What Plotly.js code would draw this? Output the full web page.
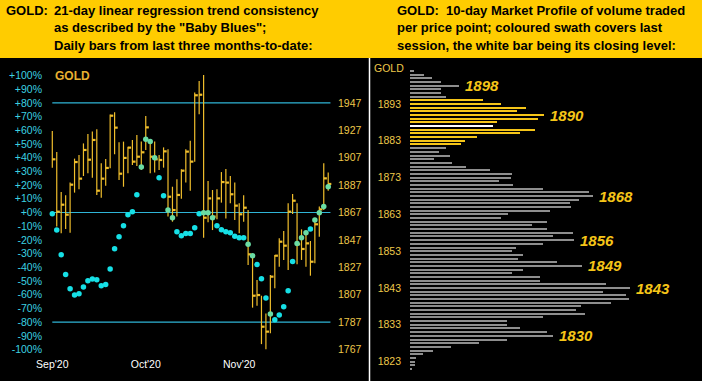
<!DOCTYPE html>
<html>
<head>
<meta charset="utf-8">
<script src="https://cdn.plot.ly/plotly-3.0.1.min.js"></script>
<style>html,body{margin:0;padding:0;background:#FFCC00;}#chart{width:702px;height:381px;}</style>
</head>
<body>
<div id="chart"></div>
<script>
// ---------- Left panel data: daily bars (percent scale, 0% = 1867) ----------
const monthLabels = ["Sep'20", "Oct'20", "Nov'20"];
const monthStarts = [0, 21, 42];
const highs = [59.4,44.1,15.0,12.5,21.8,39.3,41.9,50.4,57.3,59.0,60.7,35.9,39.0,71.4,73.1,51.2,51.7,48.0,52.9,56.5,51.7,
  70.4,51.7,51.7,41.9,47.5,46.1,18.8,24.2,31.5,46.1,52.4,87.6,95.9,100.3,23.0,16.4,16.9,29.5,31.7,26.6,21.8,
  6.7,12.5,1.8,-31.0,-49.2,-60.7,-73.6,-45.6,-31.0,-18.8,-13.5,6.7,13.5,6.7,-12.3,-13.5,-20.8,-4.3,4.3,35.9,29.1];
const lows = [32.7,-10.3,-15.2,-12.0,-14.7,14.5,16.9,26.6,28.6,25.4,12.8,10.8,19.6,32.2,42.4,23.7,18.8,28.6,34.6,33.9,31.0,
  45.6,28.6,29.1,31.0,32.7,-3.0,-6.7,-3.0,10.0,21.8,15.9,37.1,71.6,-18.4,-7.2,-12.8,-5.0,7.2,-4.3,6.7,-5.5,
  -15.2,-6.7,-38.3,-69.4,-68.0,-96.0,-99.8,-88.1,-55.3,-39.5,-34.6,-41.9,-1.1,-37.8,-34.6,-39.5,-46.1,-37.1,-17.6,1.8,15.9];
const closes = [38.8,0.6,5.7,-1.6,20.3,36.8,24.7,45.6,38.5,52.9,15.9,24.7,32.5,70.6,61.9,28.3,39.8,47.3,37.1,40.7,43.9,
  62.1,40.7,38.8,38.3,44.6,11.5,1.8,12.8,30.5,44.4,37.1,85.5,85.9,-3.8,10.3,-3.0,10.3,22.2,21.8,13.3,5.0,
  -1.3,3.5,-30.5,-60.7,-60.2,-83.3,-86.9,-46.8,-31.5,-21.3,-24.2,0.6,8.6,-23.2,-26.6,-22.5,-35.9,-8.6,2.3,24.9,20.8];
const babyBlues = [-0.9,-12.8,-30.8,-45.3,-55.6,-60.2,-59.2,-54.3,-49.7,-48.5,-49.0,-53.4,-52.6,-41.2,-26.4,-17.6,-9.6,-1.6,0.6,13.0,33.2,
  53.4,51.7,40.0,25.4,12.3,1.8,-3.8,-14.0,-17.0,-15.4,-15.4,-11.1,-0.9,-0.1,-0.1,-3.8,-9.6,-12.5,-14.0,-14.7,-17.4,
  -18.4,-18.4,-23.2,-31.5,-38.0,-48.3,-62.4,-74.1,-78.2,-74.8,-68.7,-57.0,-35.8,-22.7,-18.4,-14.7,-12.0,-5.5,-0.1,4.3,18.8];
const pctTicks = [100,90,80,70,60,50,40,30,20,10,0,-10,-20,-30,-40,-50,-60,-70,-80,-90,-100];
const priceTicks = [1947,1927,1907,1887,1867,1847,1827,1807,1787,1767];
const pivotPrice = 1867;          // 0% level
const refLevels = [80, 0, -80];   // horizontal reference lines

// ---------- Right panel data: market profile ----------
const profileTop = 1902, profileBottom = 1821;
const volumes = [4,14,22,31,49,31,31,36,73,91, 116,107,134,128,87,83,125,110,67,55,
  51,36,29,40,24,42,56,80,102,101, 89,103,133,179,183,169,160,161,140,98,
  91,137,122,137,163,143,164,133,106,102, 113,108,147,172,113,102,130,130,196,220,
  193,216,219,201,171,166,175,133,97,97, 110,137,143,97,69,41,23,13,6,5, 5,2];
const swathHigh = 1894, swathLow = 1882, closeLevel = 1887;
const profileLabels = [1898, 1890, 1868, 1856, 1849, 1843, 1830];
const profileTicks = [1893,1883,1873,1863,1853,1843,1833,1823];

const W = 702, H = 381;
const px = x => x / W, py = y => 1 - y / H;
const idx = highs.map((_, i) => i);
const prices = volumes.map((_, i) => profileTop - i);

const BAR = '#F0BE2C', CYAN = '#16E0E6', LINE = '#2FB4D6', AXC = '#3CD2E0', PRC = '#EEC84A';
const FONT = 'Liberation Sans, Arial, sans-serif';

// y ranges
const pxPerPct = 1.371, zeroY = 212.5, topY = 60, botY = 356;
const yTop = (zeroY - topY) / pxPerPct, yBot = (zeroY - botY) / pxPerPct;
const rowPx = 3.68, rowRefY = 104, rowRefP = 1893;
const pTop = rowRefP + (rowRefY - 58) / rowPx, pBot = rowRefP - (381 - rowRefY) / rowPx;

const traces = [];
// High-low ranges
traces.push({type:'scatter', mode:'markers', x:idx, y:lows, xaxis:'x', yaxis:'y',
  marker:{size:1, color:'rgba(0,0,0,0)'}, hoverinfo:'skip', showlegend:false,
  error_y:{type:'data', symmetric:false, array:highs.map((h,i)=>h-lows[i]), arrayminus:highs.map(()=>0),
    width:0, thickness:1.2, color:BAR}});
// Close ticks
traces.push({type:'scatter', mode:'markers', x:idx, y:closes, xaxis:'x', yaxis:'y',
  marker:{size:1, color:'rgba(0,0,0,0)'}, hoverinfo:'skip', showlegend:false,
  error_x:{type:'constant', symmetric:false, value:0.7, valueminus:0, width:0, thickness:2.2, color:BAR}});
// Baby Blues
traces.push({type:'scatter', mode:'markers', x:idx, y:babyBlues, xaxis:'x', yaxis:'y', showlegend:false,
  marker:{size:5.5, color:babyBlues.map((b,i)=> (b>=lows[i] && b<=highs[i]) ? '#6ADCA4' : CYAN)}});
// price axis carrier (invisible)
traces.push({type:'scatter', mode:'markers', x:[0], y:[pivotPrice], xaxis:'x', yaxis:'y3',
  marker:{size:1, color:'rgba(0,0,0,0)'}, hoverinfo:'skip', showlegend:false});
// Market profile
traces.push({type:'bar', orientation:'h', y:prices, x:volumes, xaxis:'x2', yaxis:'y2', width:0.55,
  showlegend:false, hoverinfo:'skip',
  marker:{color:prices.map(p => p===closeLevel ? '#FFFFFF' : (p>=swathLow && p<=swathHigh ? '#F5C518' : '#8E8E8E')), line:{width:0}}});

const shapes = [
  {type:'rect', xref:'paper', yref:'paper', x0:px(0), x1:px(362), y0:py(381), y1:py(58), fillcolor:'#000', line:{width:0}, layer:'below'},
  {type:'rect', xref:'paper', yref:'paper', x0:px(362), x1:px(702), y0:py(381), y1:py(58), fillcolor:'#000', line:{width:0}, layer:'below'},
  {type:'line', xref:'paper', yref:'paper', x0:px(369.5), x1:px(369.5), y0:py(381), y1:py(58), line:{color:'#FFFFFF', width:1.5}},
];
refLevels.forEach(v => shapes.push({type:'line', xref:'x', yref:'y', x0:0, x1:idx.length - 0.5, y0:v, y1:v,
  line:{color:LINE, width:1.2}, layer:'below'}));

const ann = [];
const hdr = (x, y, t) => ann.push({xref:'paper', yref:'paper', x:px(x), y:py(y), xanchor:'left', yanchor:'middle',
  text:'<b>'+t+'</b>', showarrow:false, font:{family:FONT, size:13, color:'#000'}});
hdr(4, 10, 'GOLD:');
hdr(52, 10, '21-day linear regression trend consistency');
hdr(52, 28, 'as described by the "Baby Blues";');
hdr(52, 46, 'Daily bars from last three months-to-date:');
hdr(395, 10, 'GOLD:&nbsp;&nbsp;10-day Market Profile of volume traded');
hdr(395, 28, 'per price point; coloured swath covers last');
hdr(395, 46, 'session, the white bar being its closing level:');
ann.push({xref:'paper', yref:'paper', x:px(52.5), y:py(76), xanchor:'left', yanchor:'middle', text:'<b>GOLD</b>',
  showarrow:false, font:{family:FONT, size:12, color:'#E8B030'}});
ann.push({xref:'paper', yref:'paper', x:px(372), y:py(67.5), xanchor:'left', yanchor:'middle', text:'GOLD',
  showarrow:false, font:{family:FONT, size:10.5, color:PRC}});
profileLabels.forEach(p => ann.push({xref:'x2', yref:'y2', x:volumes[profileTop - p], y:p, xanchor:'left', yanchor:'middle',
  xshift:4, text:'<b><i>'+p+'</i></b>', showarrow:false, font:{family:FONT, size:15, color:'#F5C518'}}));

const layout = {
  width:W, height:H, margin:{l:0, r:0, t:0, b:0}, paper_bgcolor:'#FFCC00', plot_bgcolor:'rgba(0,0,0,0)',
  showlegend:false, bargap:0, font:{family:FONT},
  xaxis:{domain:[px(44), px(334)], range:[-1.865, 63.3], anchor:'y', tickvals:monthStarts, ticktext:monthLabels,
    tickfont:{family:FONT, size:10.5, color:'#FFFFFF'}, showgrid:false, zeroline:false, showline:false, ticks:'', fixedrange:true},
  yaxis:{domain:[py(botY), py(topY)], range:[yBot, yTop], anchor:'x', tickvals:pctTicks,
    ticktext:pctTicks.map(v => (v>=0?'+':'') + v + '%'), tickfont:{family:FONT, size:10.5, color:AXC},
    showgrid:false, zeroline:false, showline:false, ticks:'', ticklabelstandoff:1},
  yaxis3:{overlaying:'y', side:'right', anchor:'x', range:[yBot + pivotPrice, yTop + pivotPrice], tickvals:priceTicks,
    tickfont:{family:FONT, size:10.5, color:PRC}, showgrid:false, zeroline:false, showline:false, ticks:'', ticklabelstandoff:3},
  xaxis2:{domain:[px(410), px(700)], range:[0, 290], anchor:'y2', visible:false, fixedrange:true},
  yaxis2:{domain:[0, py(58)], range:[pBot, pTop], anchor:'x2', side:'left', tickvals:profileTicks,
    tickfont:{family:FONT, size:10.5, color:PRC}, showgrid:false, zeroline:false, showline:false, ticks:'', ticklabelstandoff:8},
  shapes:shapes, annotations:ann
};
Plotly.newPlot('chart', traces, layout, {staticPlot:true, displayModeBar:false});
</script>
</body>
</html>
